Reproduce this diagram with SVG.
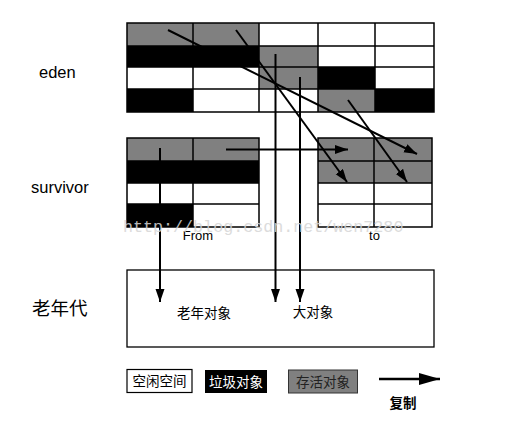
<svg xmlns="http://www.w3.org/2000/svg" width="524" height="443" viewBox="0 0 524 443">
<style>
.g{fill:#808080}
.k{fill:#000}
.w{fill:#fff}
.grid{stroke:#000;stroke-width:1.5;fill:none}
.lbl{font-family:"Liberation Sans","Noto Sans",sans-serif;fill:#000}
.cjk{font-family:"Noto Sans CJK SC","Liberation Sans",sans-serif}
.ln{stroke:#000;stroke-width:2;fill:none;marker-end:url(#ah)}
</style>
<defs>
<marker id="ah" markerUnits="userSpaceOnUse" markerWidth="14" markerHeight="10" refX="13" refY="4.5" orient="auto">
<path d="M0,0 L13,4.5 L0,9 z" fill="#000"/>
</marker>
<marker id="ah2" markerUnits="userSpaceOnUse" markerWidth="22" markerHeight="13" refX="21" refY="6" orient="auto">
<path d="M0,0 L21,6 L0,12 z" fill="#000"/>
</marker>
</defs>
<rect width="524" height="443" fill="#fff"/>

<g id="eden-label"><text class="lbl" x="39" y="78" font-size="16.5">eden</text></g>
<g id="survivor-label"><text class="lbl" x="31" y="192.5" font-size="16.5">survivor</text></g>
<g id="old-label"><text class="lbl cjk" x="32" y="315" font-size="18.5">老年代</text></g>

<g id="eden">
<rect x="127" y="23" width="132" height="23" class="g"/>
<rect x="127" y="46" width="132" height="21" class="k"/>
<rect x="259" y="46" width="59" height="43" class="g"/>
<rect x="318" y="67" width="57" height="22" class="k"/>
<rect x="127" y="89" width="66" height="23" class="k"/>
<rect x="318" y="89" width="57" height="23" class="g"/>
<rect x="375" y="89" width="59" height="23" class="k"/>
<path class="grid" d="M127,23H434V112H127Z M127,46H434 M127,67H434 M127,89H434 M193,23V112 M259,23V112 M318,23V112 M375,23V112"/>
</g>

<g id="from">
<rect x="127" y="138" width="132" height="23" class="g"/>
<rect x="127" y="161" width="132" height="22" class="k"/>
<rect x="127" y="204" width="66" height="23" class="k"/>
<path class="grid" d="M127,138H259V227H127Z M127,161H259 M127,183H259 M127,204H259 M193,138V227"/>
<text class="lbl" x="198" y="239.5" font-size="13" text-anchor="middle">From</text>
</g>

<g id="to">
<rect x="318" y="138" width="114" height="45" class="g"/>
<path class="grid" d="M318,138H432V227H318Z M318,161H432 M318,183H432 M318,204H432 M374,138V227"/>
<text class="lbl" x="374.5" y="239.5" font-size="13" text-anchor="middle">to</text>
</g>

<g id="old">
<rect x="127" y="270" width="307" height="77" fill="#fff" stroke="#000" stroke-width="1.3"/>
<text class="lbl cjk" x="204" y="318" font-size="13.5" text-anchor="middle">老年对象</text>
<text class="lbl cjk" x="313" y="316.5" font-size="13.5" text-anchor="middle">大对象</text>
</g>

<g id="connectors">
<line class="ln" x1="168" y1="30" x2="417" y2="154"/>
<line class="ln" x1="236" y1="30" x2="347" y2="182"/>
<line class="ln" x1="348" y1="100" x2="407" y2="182"/>
<line class="ln" x1="226" y1="149.5" x2="348" y2="149.5"/>
<line class="ln" x1="275.5" y1="54" x2="275.5" y2="302"/>
<line class="ln" x1="300" y1="77" x2="300" y2="302"/>
<line class="ln" x1="160" y1="148" x2="160" y2="302"/>
</g>

<g id="legend">
<g id="legend-free">
<rect x="127" y="369.5" width="65" height="23" fill="#fff" stroke="#000" stroke-width="1.2"/>
<text class="lbl cjk" x="159.5" y="386" font-size="13.5" text-anchor="middle">空闲空间</text>
</g>
<g id="legend-garbage">
<rect x="205" y="370" width="62" height="23" fill="#000"/>
<text class="cjk" x="236" y="386.5" font-size="13.5" text-anchor="middle" fill="#fff">垃圾对象</text>
</g>
<g id="legend-live">
<rect x="288.5" y="370" width="69" height="23" fill="#808080" stroke="#333" stroke-width="1"/>
<text class="cjk" x="323" y="386.5" font-size="13.5" text-anchor="middle" fill="#222">存活对象</text>
</g>
<g id="legend-copy">
<line x1="379" y1="379" x2="440" y2="379" stroke="#000" stroke-width="2.5" marker-end="url(#ah2)"/>
<text class="lbl cjk" x="403" y="408" font-size="13.5" font-weight="bold" text-anchor="middle">复制</text>
</g>
</g>

<text x="123" y="232" font-family="Liberation Mono, monospace" font-size="16.7" fill="#d6d6d6" opacity="0.85">http://blog.csdn.net/wen7280</text>
</svg>
